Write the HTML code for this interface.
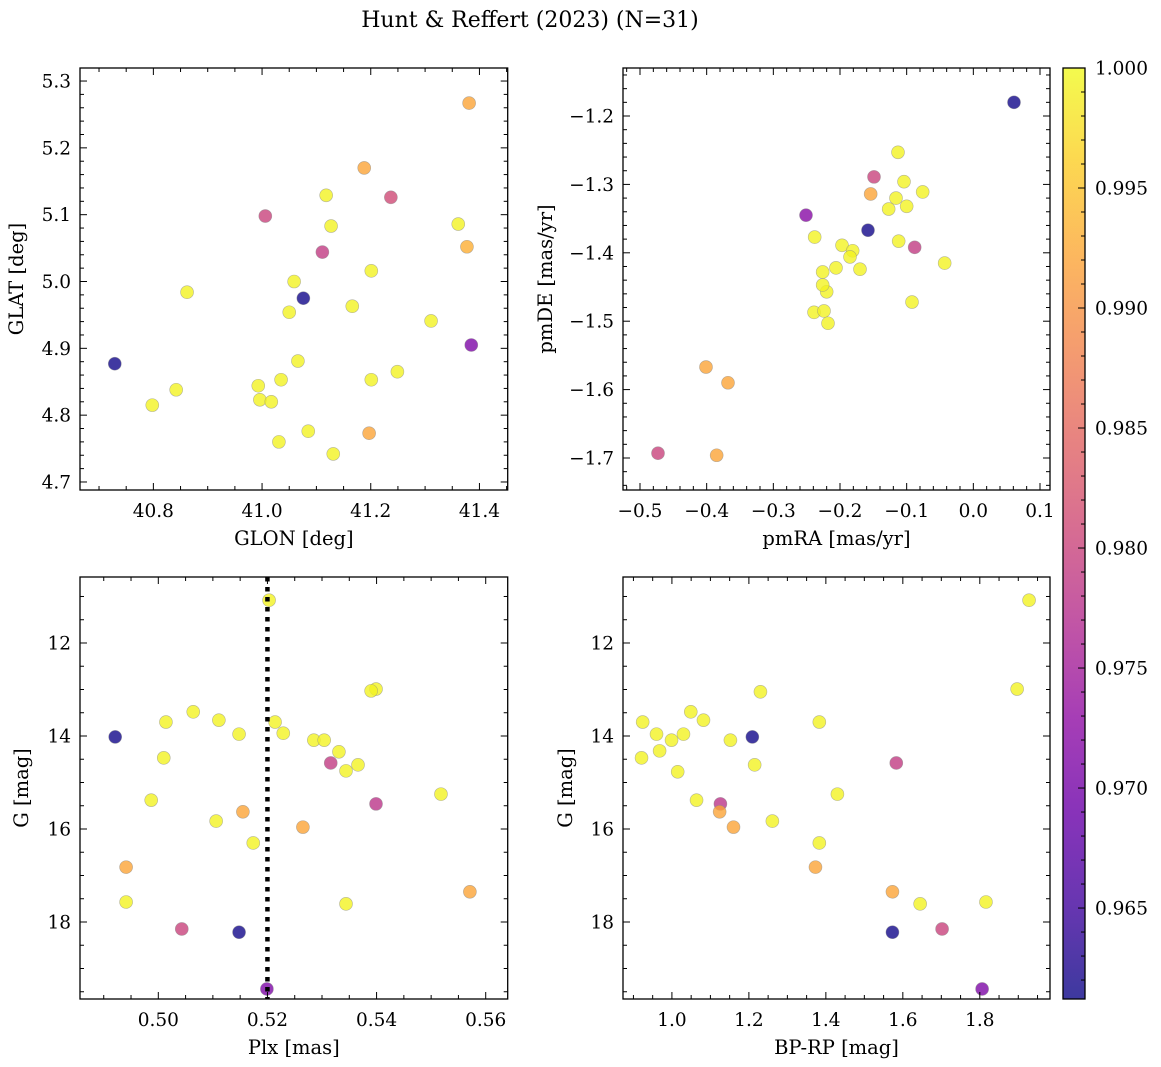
<!DOCTYPE html>
<html><head><meta charset="utf-8">
<style>
html,body{margin:0;padding:0;background:#fff;}
svg{display:block;font-family:"DejaVu Serif","Liberation Serif",serif;}
</style></head>
<body>
<svg id="fig" width="1161" height="1067" viewBox="0 0 1161 1067" xmlns="http://www.w3.org/2000/svg">
<text x="530" y="27" font-size="22" text-anchor="middle">Hunt &amp; Reffert (2023) (N=31)</text>
</svg>
<script>
// ---- data ----
const glon = [41.381,41.188,41.237,41.006,41.118,41.127,41.361,41.377,41.111,41.201,41.059,40.862,41.076,41.166,41.050,41.311,41.385,40.729,41.066,41.249,40.993,41.035,41.201,40.842,40.996,41.017,40.798,41.085,41.197,41.031,41.131];
const glat = [5.267,5.170,5.126,5.098,5.129,5.083,5.086,5.052,5.044,5.016,5.000,4.984,4.975,4.963,4.954,4.941,4.905,4.877,4.881,4.865,4.844,4.853,4.853,4.838,4.823,4.820,4.815,4.776,4.773,4.760,4.742];
const probA = [0.992,0.992,0.981,0.980,0.9995,0.9995,0.9995,0.993,0.979,0.9995,0.9995,0.9995,0.9615,0.9995,0.9995,0.9995,0.971,0.9615,0.9995,0.9995,0.9995,0.9995,0.9995,0.9995,0.9995,0.9995,0.9995,0.9995,0.992,0.9995,0.9995];

const pmra = [0.061,-0.113,-0.149,-0.104,-0.154,-0.076,-0.127,-0.116,-0.100,-0.251,-0.158,-0.238,-0.112,-0.197,-0.088,-0.181,-0.185,-0.206,-0.170,-0.043,-0.226,-0.220,-0.226,-0.092,-0.239,-0.224,-0.218,-0.401,-0.368,-0.473,-0.385];
const pmde = [-1.180,-1.253,-1.289,-1.296,-1.314,-1.311,-1.336,-1.320,-1.332,-1.345,-1.367,-1.377,-1.383,-1.389,-1.392,-1.397,-1.406,-1.422,-1.424,-1.415,-1.428,-1.457,-1.447,-1.472,-1.487,-1.485,-1.503,-1.567,-1.590,-1.693,-1.696];
const probB = [0.9615,0.9995,0.980,0.9995,0.992,0.9995,0.9995,0.9995,0.9995,0.972,0.9615,0.9995,0.9995,0.9995,0.979,0.9995,0.9995,0.9995,0.9995,0.9995,0.9995,0.9995,0.9995,0.9995,0.9995,0.9995,0.9995,0.992,0.992,0.980,0.992];

const plx = [0.5203,0.5399,0.5390,0.5064,0.5014,0.5111,0.5214,0.5148,0.5229,0.4921,0.5285,0.5304,0.5331,0.5010,0.5316,0.5366,0.5344,0.4987,0.5518,0.5399,0.5155,0.5106,0.5265,0.5174,0.4941,0.5571,0.4941,0.5344,0.5043,0.5148,0.5199];
const gmagC = [11.08,12.99,13.03,13.48,13.70,13.66,13.70,13.96,13.94,14.02,14.09,14.09,14.34,14.47,14.58,14.62,14.75,15.38,15.25,15.46,15.63,15.83,15.96,16.30,16.82,17.35,17.57,17.61,18.15,18.22,19.44];
const probC = [0.9995,0.9995,0.9995,0.9995,0.9995,0.9995,0.9995,0.9995,0.9995,0.9615,0.9995,0.9995,0.9995,0.9995,0.979,0.9995,0.9995,0.9995,0.9995,0.978,0.992,0.9995,0.992,0.9995,0.992,0.992,0.9995,0.9995,0.980,0.9615,0.971];

const bprp = [1.928,1.897,1.230,1.049,0.924,1.082,1.383,0.960,1.030,0.999,1.209,1.152,0.968,0.921,1.215,1.583,1.015,1.064,1.430,1.126,1.124,1.261,1.160,1.383,1.373,1.573,1.816,1.645,1.702,1.573,1.806];
const gmagD = [11.08,12.99,13.05,13.48,13.70,13.66,13.70,13.96,13.96,14.09,14.02,14.09,14.32,14.47,14.62,14.58,14.77,15.38,15.25,15.46,15.63,15.83,15.96,16.30,16.82,17.35,17.57,17.61,18.15,18.22,19.44];
const probD = [0.9995,0.9995,0.9995,0.9995,0.9995,0.9995,0.9995,0.9995,0.9995,0.9995,0.9615,0.9995,0.9995,0.9995,0.9995,0.979,0.9995,0.9995,0.9995,0.978,0.992,0.9995,0.992,0.9995,0.992,0.992,0.9995,0.9995,0.980,0.9615,0.971];

const plxRef = [0.52];
const cbarTicks = ["0.965","0.970","0.975","0.980","0.985","0.990","0.995","1.000"];

// ---- helpers ----
const NS = "http://www.w3.org/2000/svg";
const svg = document.getElementById('fig');
function mk(tag, attrs, parent){ const e=document.createElementNS(NS,tag); for(const k in attrs) e.setAttribute(k,attrs[k]); (parent||svg).appendChild(e); return e; }
const VMIN=0.96121, VMAX=1.0;
const stops=[[13,8,135],[65,4,157],[106,0,168],[143,13,164],[177,42,144],[204,71,120],[225,100,98],[242,132,75],[252,166,54],[252,206,37],[240,249,33]];
function plasma(t){ t=Math.max(0,Math.min(1,t)); const p=t*10, i=Math.min(9,Math.floor(p)), f=p-i; const a=stops[i], b=stops[i+1]; return 'rgb('+a.map((v,k)=>Math.round(v+(b[k]-v)*f)).join(',')+')'; }
function cmap(v){ return plasma((v-VMIN)/(VMAX-VMIN)); }
function fmt(v,d){ const s=v.toFixed(d); return v<0 ? '\u2212'+s.slice(1) : s; }
const TFS=18.5, LFS=19.5;

function panel(o){
  const g = mk('g',{});
  
  
  const X = v => o.x0 + (v-o.xd[0])/(o.xd[1]-o.xd[0])*(o.x1-o.x0);
  const Y = o.yinv ? (v => o.y0 + (v-o.yd[0])/(o.yd[1]-o.yd[0])*(o.y1-o.y0))
                   : (v => o.y1 - (v-o.yd[0])/(o.yd[1]-o.yd[0])*(o.y1-o.y0));
  const pg = mk('g',{},g);
  
  
  for(let i=0;i<o.xs.length;i++){
    const c = mk('circle',{cx:X(o.xs[i]),cy:Y(o.ys[i]),r:6.5,fill:cmap(o.cs[i]),'fill-opacity':0.8,stroke:'#888','stroke-opacity':0.6,'stroke-width':0.6},pg);
    
    
  }
  if(o.vline){ for(const v of o.vline){
    const l = mk('line',{x1:X(v),x2:X(v),y1:o.y0,y2:o.y1,stroke:'#000','stroke-width':4.5,'stroke-dasharray':'4.5 5.5'},g);
    
    
  }}
  const tg = mk('g',{stroke:'#000','stroke-width':1},g);
  function ticks(min,max,step,sub,isX,dec){
    const n0=Math.ceil(min/(step/sub) - 1e-6), n1=Math.floor(max/(step/sub)+1e-6);
    for(let n=n0;n<=n1;n++){
      const v=n*step/sub; const major = Math.abs(n%sub)===0; const L = major?7:4;
      if(isX){ const x=X(v);
        mk('line',{x1:x,x2:x,y1:o.y1,y2:o.y1-L},tg); mk('line',{x1:x,x2:x,y1:o.y0,y2:o.y0+L},tg);
        if(major){ const t=mk('text',{x:x,y:o.y1+27,'font-size':TFS,'text-anchor':'middle',stroke:'none'},g); t.textContent=fmt(v,dec);
            }
      } else { const y=Y(v);
        mk('line',{x1:o.x0,x2:o.x0+L,y1:y,y2:y},tg); mk('line',{x1:o.x1,x2:o.x1-L,y1:y,y2:y},tg);
        if(major){ const t=mk('text',{x:o.x0-9,y:y+6.5,'font-size':TFS,'text-anchor':'end',stroke:'none'},g); t.textContent=fmt(v,dec);
            }
      }
    }
  }
  const xl=Math.min(...o.xd), xh=Math.max(...o.xd), yl=Math.min(...o.yd), yh=Math.max(...o.yd);
  ticks(xl,xh,o.xt[0],o.xt[1],true,o.xt[2]);
  ticks(yl,yh,o.yt[0],o.yt[1],false,o.yt[2]);
  const fr = mk('rect',{x:o.x0,y:o.y0,width:o.x1-o.x0,height:o.y1-o.y0,fill:'none',stroke:'#000','stroke-width':1.3},g);
  
  
  const xt = mk('text',{x:(o.x0+o.x1)/2,y:o.y1+55,'font-size':LFS,'text-anchor':'middle'},g); xt.textContent=o.xlabel;
   
  const yx=o.ylx, yy=(o.y0+o.y1)/2;
  const yt = mk('text',{x:yx,y:yy,'font-size':LFS,'text-anchor':'middle',transform:'rotate(-90 '+yx+' '+yy+')'},g); yt.textContent=o.ylabel;
   
}

panel({name:'glon-glat-panel',x0:80,x1:507.7,y0:68,y1:490,xd:[40.665,41.452],yd:[4.688,5.3195],xt:[0.2,4,1],yt:[0.1,5,1],xs:glon,ys:glat,cs:probA,xlabel:'GLON [deg]',ylabel:'GLAT [deg]',ylx:23});
panel({name:'proper-motion-panel',x0:623,x1:1050,y0:68,y1:490,xd:[-0.5255,0.115],yd:[-1.7468,-1.1298],xt:[0.1,5,1],yt:[0.1,5,1],xs:pmra,ys:pmde,cs:probB,xlabel:'pmRA [mas/yr]',ylabel:'pmDE [mas/yr]',ylx:552});
panel({name:'plx-g-panel',x0:80,x1:507.7,y0:577,y1:999,xd:[0.48565,0.56403],yd:[10.581,19.656],yinv:true,xt:[0.02,4,2],yt:[2,4,0],xs:plx,ys:gmagC,cs:probC,vline:plxRef,xlabel:'Plx [mas]',ylabel:'G [mag]',ylx:28});
panel({name:'cmd-panel',x0:623,x1:1050,y0:577,y1:999,xd:[0.8729,1.9824],yd:[10.581,19.656],yinv:true,xt:[0.2,4,1],yt:[2,4,0],xs:bprp,ys:gmagD,cs:probD,xlabel:'BP-RP [mag]',ylabel:'G [mag]',ylx:572});

(function(){
  const cx0=1063,cx1=1085,cy0=68,cy1=999;
  const g=mk('g',{});
  
  
  const defs=mk('defs',{},g);
  const lg=mk('linearGradient',{id:'plg',x1:0,y1:1,x2:0,y2:0},defs);
  for(let i=0;i<=20;i++){ mk('stop',{offset:(i/20),'stop-color':plasma(i/20),'stop-opacity':0.8},lg); }
  mk('rect',{x:cx0,y:cy0,width:cx1-cx0,height:cy1-cy0,fill:'url(#plg)'},g);
  const Yc=v=>cy1-(v-VMIN)/(VMAX-VMIN)*(cy1-cy0);
  for(let n=962;n<=1000;n++){ const v=n/1000; const y=Yc(v); const major=n%5===0;
    mk('line',{x1:cx1,x2:cx1-(major?7:4),y1:y,y2:y,stroke:'#000','stroke-width':1},g); }
  for(const s of cbarTicks){ const v=parseFloat(s); const t=mk('text',{x:cx1+10,y:Yc(v)+6.5,'font-size':TFS},g); t.textContent=s;
      }
  mk('rect',{x:cx0,y:cy0,width:cx1-cx0,height:cy1-cy0,fill:'none',stroke:'#000','stroke-width':1.3},g);
})();
</script>
</body></html>
